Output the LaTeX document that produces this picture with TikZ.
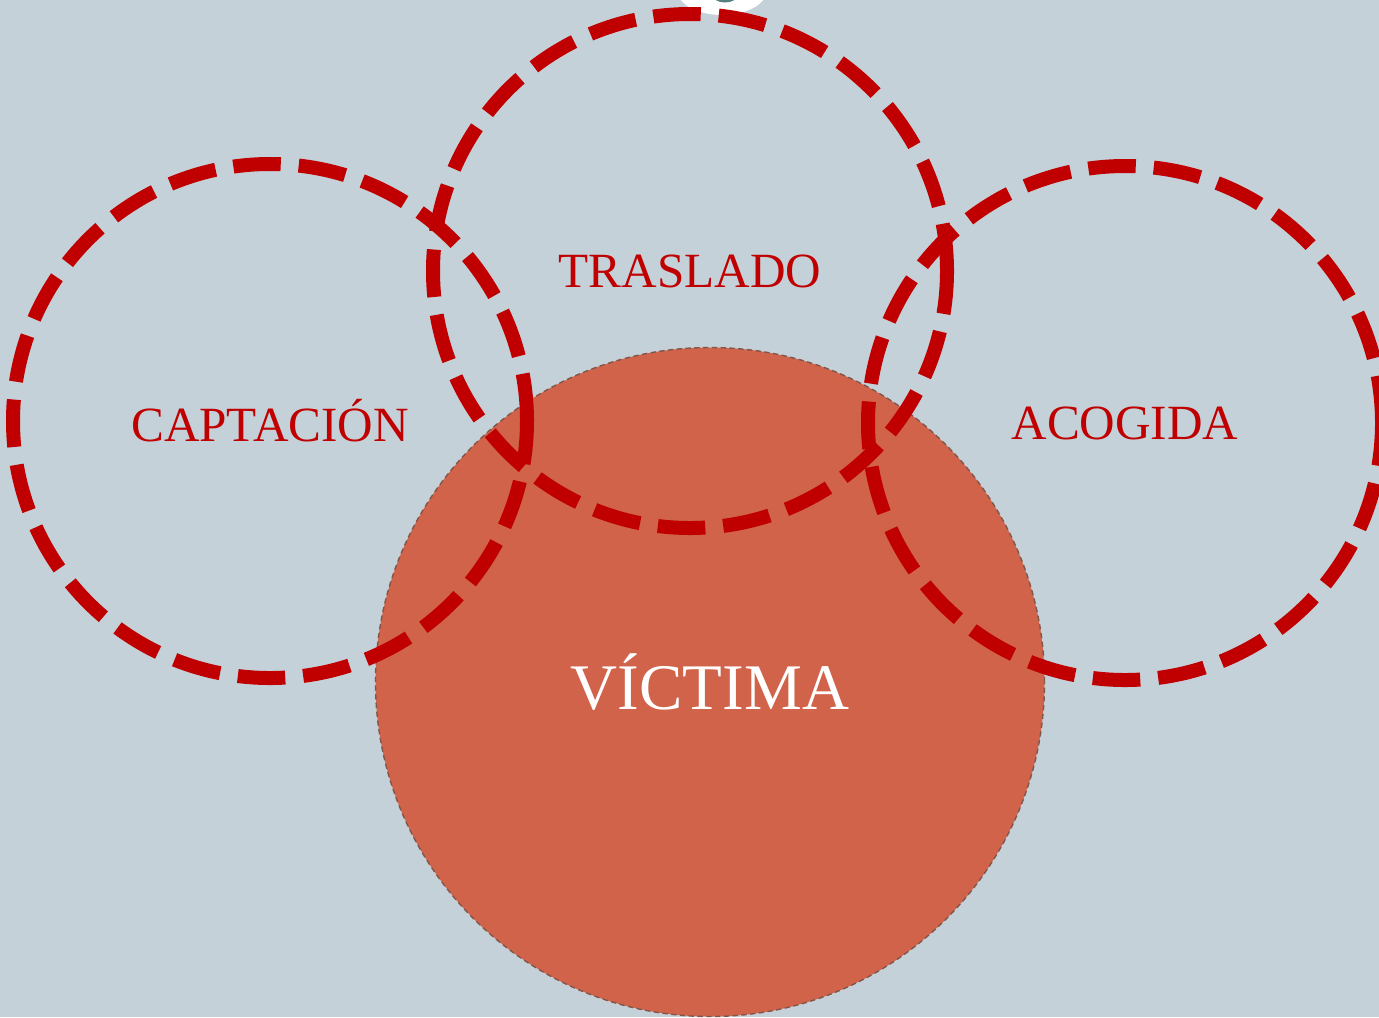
\documentclass[tikz,border=0pt]{standalone}
\usepackage{fontspec}
\setmainfont{Liberation Serif}
\usetikzlibrary{positioning}

\definecolor{fondo}{RGB}{197,209,216}
\definecolor{rojo}{RGB}{192,0,0}
\definecolor{naranja}{RGB}{208,99,74}
\definecolor{borde}{RGB}{130,85,75}

\tikzset{
	etapa/.style={circle, draw=rojo, line width=0.28cm, dash pattern=on 0.95cm off 0.36cm, minimum size=10.28cm, inner sep=0pt, text=rojo, font=\fontsize{28}{31}\selectfont},
}

\begin{document}
\begin{tikzpicture}
	% fondo
	\fill[fondo] (0,0) rectangle (27.58,-20.34);
	\useasboundingbox (0,0) rectangle (27.58,-20.34);
	\begin{scope}
		\clip (0,0) rectangle (27.58,-20.34);
		\fill[white] (14.44,0.2) ellipse (0.9cm and 0.5cm);
		\fill[gray!70!teal] (14.5,0.1) ellipse (0.25cm and 0.15cm);
	\end{scope}
	\node[circle, fill=naranja, draw=borde, densely dashed, line width=0.8pt, minimum size=13.38cm, inner sep=0pt, text=white, font=\fontsize{37}{40}\selectfont](victima) at (14.2,-13.64){VÍCTIMA};
	\node[etapa](captacion) at (5.4,-8.42){CAPTACIÓN};
	\node[etapa](traslado) at (13.8,-5.42){TRASLADO};
	\node[etapa](acogida) at (22.5,-8.46){ACOGIDA};
\end{tikzpicture}
\end{document}
